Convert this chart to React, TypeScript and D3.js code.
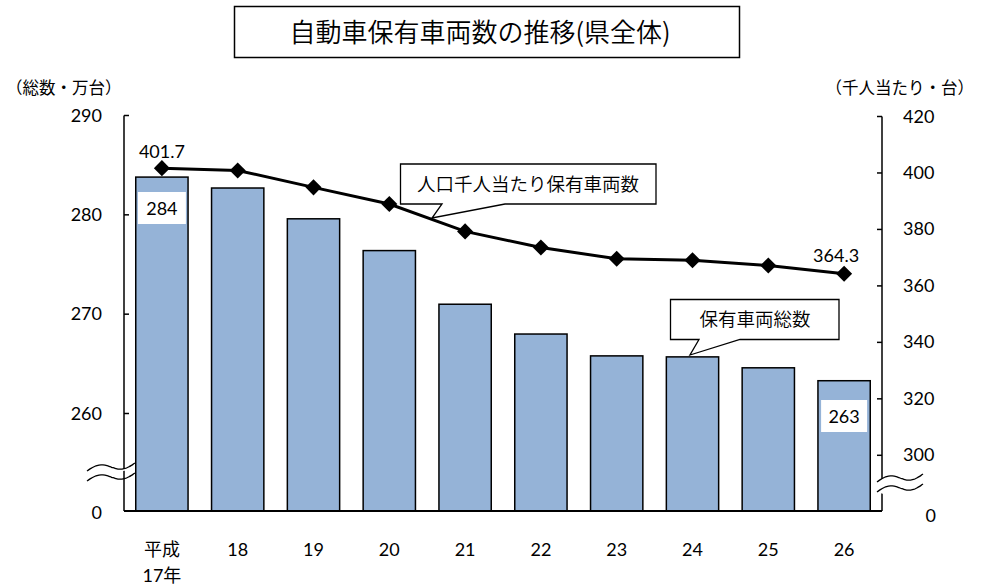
import * as d3 from "d3";

const years = ["17", "18", "19", "20", "21", "22", "23", "24", "25", "26"];
const yearLabels = ["平成", "18", "19", "20", "21", "22", "23", "24", "25", "26"];
const totalVehicles = [283.8, 282.7, 279.6, 276.4, 271.0, 268.0, 265.8, 265.7, 264.6, 263.3];
const perThousand = [401.7, 400.9, 394.9, 389.0, 379.3, 373.6, 369.6, 369.1, 367.2, 364.3];
const leftTicks = [260, 270, 280, 290];
const rightTicks = [300, 320, 340, 360, 380, 400, 420];

const FONT = "Lato, 'Noto Sans CJK JP', sans-serif";
const JP = "'Noto Sans CJK JP', sans-serif";
const JW = 350;
const NS = 18;

export default function App() {
  const left = 124;
  const right = 882;
  const base = 511;

  const x = d3.scaleBand().domain(years).range([left, right]).paddingInner(0.31).paddingOuter(0.155);
  const yL = d3.scaleLinear().domain([260, 290]).range([413.5, 115.5]);
  const yR = d3.scaleLinear().domain([300, 420]).range([455.3, 116.5]);
  const cx = (d: string) => (x(d) as number) + x.bandwidth() / 2;

  const line = d3
    .line<number>()
    .x((_, i) => cx(years[i]))
    .y((d) => yR(d));

  const diamond = d3.symbol().type(d3.symbolDiamond2).size(165)();

  // wavy break marks
  const wave = (x0: number, x1: number, y0: number, y1: number) => {
    const w = x1 - x0;
    const pts: [number, number][] = [];
    for (let k = 0; k <= 24; k++) {
      const t = k / 24;
      pts.push([x0 + w * t, y0 + (y1 - y0) * t - 4 * Math.sin(t * Math.PI * 2)]);
    }
    return d3.line().curve(d3.curveBasis)(pts) as string;
  };

  const n = years.length - 1;

  return (
    <svg width={994} height={587} style={{ position: "absolute", left: 0, top: 0, background: "#fff" }}>
      {/* title */}
      <rect x={234.5} y={6.5} width={505} height={51} fill="#fff" stroke="#000" strokeWidth={1.5} />
      <text x={480} y={42} textAnchor="middle" fontFamily={JP} fontWeight={JW} fontSize={26} fill="#000">
        自動車保有車両数の推移(県全体)
      </text>

      {/* unit labels */}
      <text x={6} y={94} fontFamily={JP} fontSize={16.5} fill="#000">（総数・万台）</text>
      <text x={974} y={94} textAnchor="end" fontFamily={JP} fontSize={16.5} fill="#000">（千人当たり・台）</text>

      {/* bars */}
      {totalVehicles.map((v, i) => (
        <rect
          key={i}
          x={x(years[i])}
          y={yL(v)}
          width={x.bandwidth()}
          height={base - yL(v)}
          fill="#95B3D7"
          stroke="#000"
          strokeWidth={1.5}
        />
      ))}

      {/* axes */}
      <line x1={left} y1={yL(290)} x2={left} y2={base} stroke="#000" strokeWidth={1.5} />
      <line x1={right} y1={yR(420)} x2={right} y2={base} stroke="#000" strokeWidth={1.5} />
      <line x1={left} y1={base} x2={right} y2={base} stroke="#000" strokeWidth={2} />
      {leftTicks.map((t) => (
        <g key={t}>
          <line x1={left} x2={left + 5} y1={yL(t)} y2={yL(t)} stroke="#000" strokeWidth={1.5} />
          <text x={102} y={yL(t) + 6} textAnchor="end" fontFamily={FONT} fontSize={NS} fill="#000">
            {t}
          </text>
        </g>
      ))}
      <text x={102} y={base + 8} textAnchor="end" fontFamily={FONT} fontSize={NS} fill="#000">0</text>
      {rightTicks.map((t) => (
        <g key={t}>
          <line x1={right - 5} x2={right} y1={yR(t)} y2={yR(t)} stroke="#000" strokeWidth={1.5} />
          <text x={903} y={yR(t) + 6} fontFamily={FONT} fontSize={NS} fill="#000">
            {t}
          </text>
        </g>
      ))}
      <text x={936} y={base + 11} textAnchor="end" fontFamily={FONT} fontSize={NS} fill="#000">0</text>

      {/* axis breaks */}
      <path
        d={`${wave(87, 135, 471, 463)} L135,${473} ${wave(135, 87, 473, 481).replace("M", "L")} Z`}
        fill="#fff"
        stroke="none"
      />
      <path d={wave(87, 135, 471, 463)} fill="none" stroke="#000" strokeWidth={1.3} />
      <path d={wave(87, 135, 481, 473)} fill="none" stroke="#000" strokeWidth={1.3} />
      <path
        d={`${wave(877, 923, 482, 474)} L923,${484} ${wave(923, 877, 484, 492).replace("M", "L")} Z`}
        fill="#fff"
        stroke="none"
      />
      <path d={wave(877, 923, 482, 474)} fill="none" stroke="#000" strokeWidth={1.3} />
      <path d={wave(877, 923, 492, 484)} fill="none" stroke="#000" strokeWidth={1.3} />

      {/* line series */}
      <path d={line(perThousand) as string} fill="none" stroke="#000" strokeWidth={3} />
      {perThousand.map((v, i) => (
        <path key={i} d={diamond as string} transform={`translate(${cx(years[i])},${yR(v)})`} fill="#000" />
      ))}
      <text x={cx(years[0])} y={yR(perThousand[0]) - 10} textAnchor="middle" fontFamily={FONT} fontSize={NS} fill="#000">
        {perThousand[0].toFixed(1)}
      </text>
      <text x={cx(years[n]) - 8} y={yR(perThousand[n]) - 12} textAnchor="middle" fontFamily={FONT} fontSize={NS} fill="#000">
        {perThousand[n].toFixed(1)}
      </text>

      {/* bar value labels */}
      <rect x={cx(years[0]) - 24} y={192} width={48} height={32} fill="#fff" />
      <text x={cx(years[0])} y={215} textAnchor="middle" fontFamily={FONT} fontSize={NS} fill="#000">
        {Math.round(totalVehicles[0])}
      </text>
      <rect x={cx(years[n]) - 23} y={400} width={46} height={32} fill="#fff" />
      <text x={cx(years[n])} y={423} textAnchor="middle" fontFamily={FONT} fontSize={NS} fill="#000">
        {Math.round(totalVehicles[n])}
      </text>

      {/* callouts */}
      <path d="M400.5,164 H656 V204 H505 L432,218 L442,204 H400.5 Z" fill="#fff" stroke="#000" strokeWidth={1.3} />
      <text x={528} y={191} textAnchor="middle" fontFamily={JP} fontWeight={JW} fontSize={18.5} fill="#000">人口千人当たり保有車両数</text>
      <path d="M670.5,299.5 H839 V339.5 H740 L690,355 L699,339.5 H670.5 Z" fill="#fff" stroke="#000" strokeWidth={1.3} />
      <text x={755} y={326} textAnchor="middle" fontFamily={JP} fontWeight={JW} fontSize={18.5} fill="#000">保有車両総数</text>

      {/* x labels */}
      {yearLabels.map((l, i) => (
        <text key={i} x={cx(years[i])} y={556} textAnchor="middle" fontFamily={FONT} fontSize={NS} fill="#000">
          {l}
        </text>
      ))}
      <text x={cx(years[0])} y={582} textAnchor="middle" fontFamily={FONT} fontSize={NS} fill="#000">17年</text>
    </svg>
  );
}
